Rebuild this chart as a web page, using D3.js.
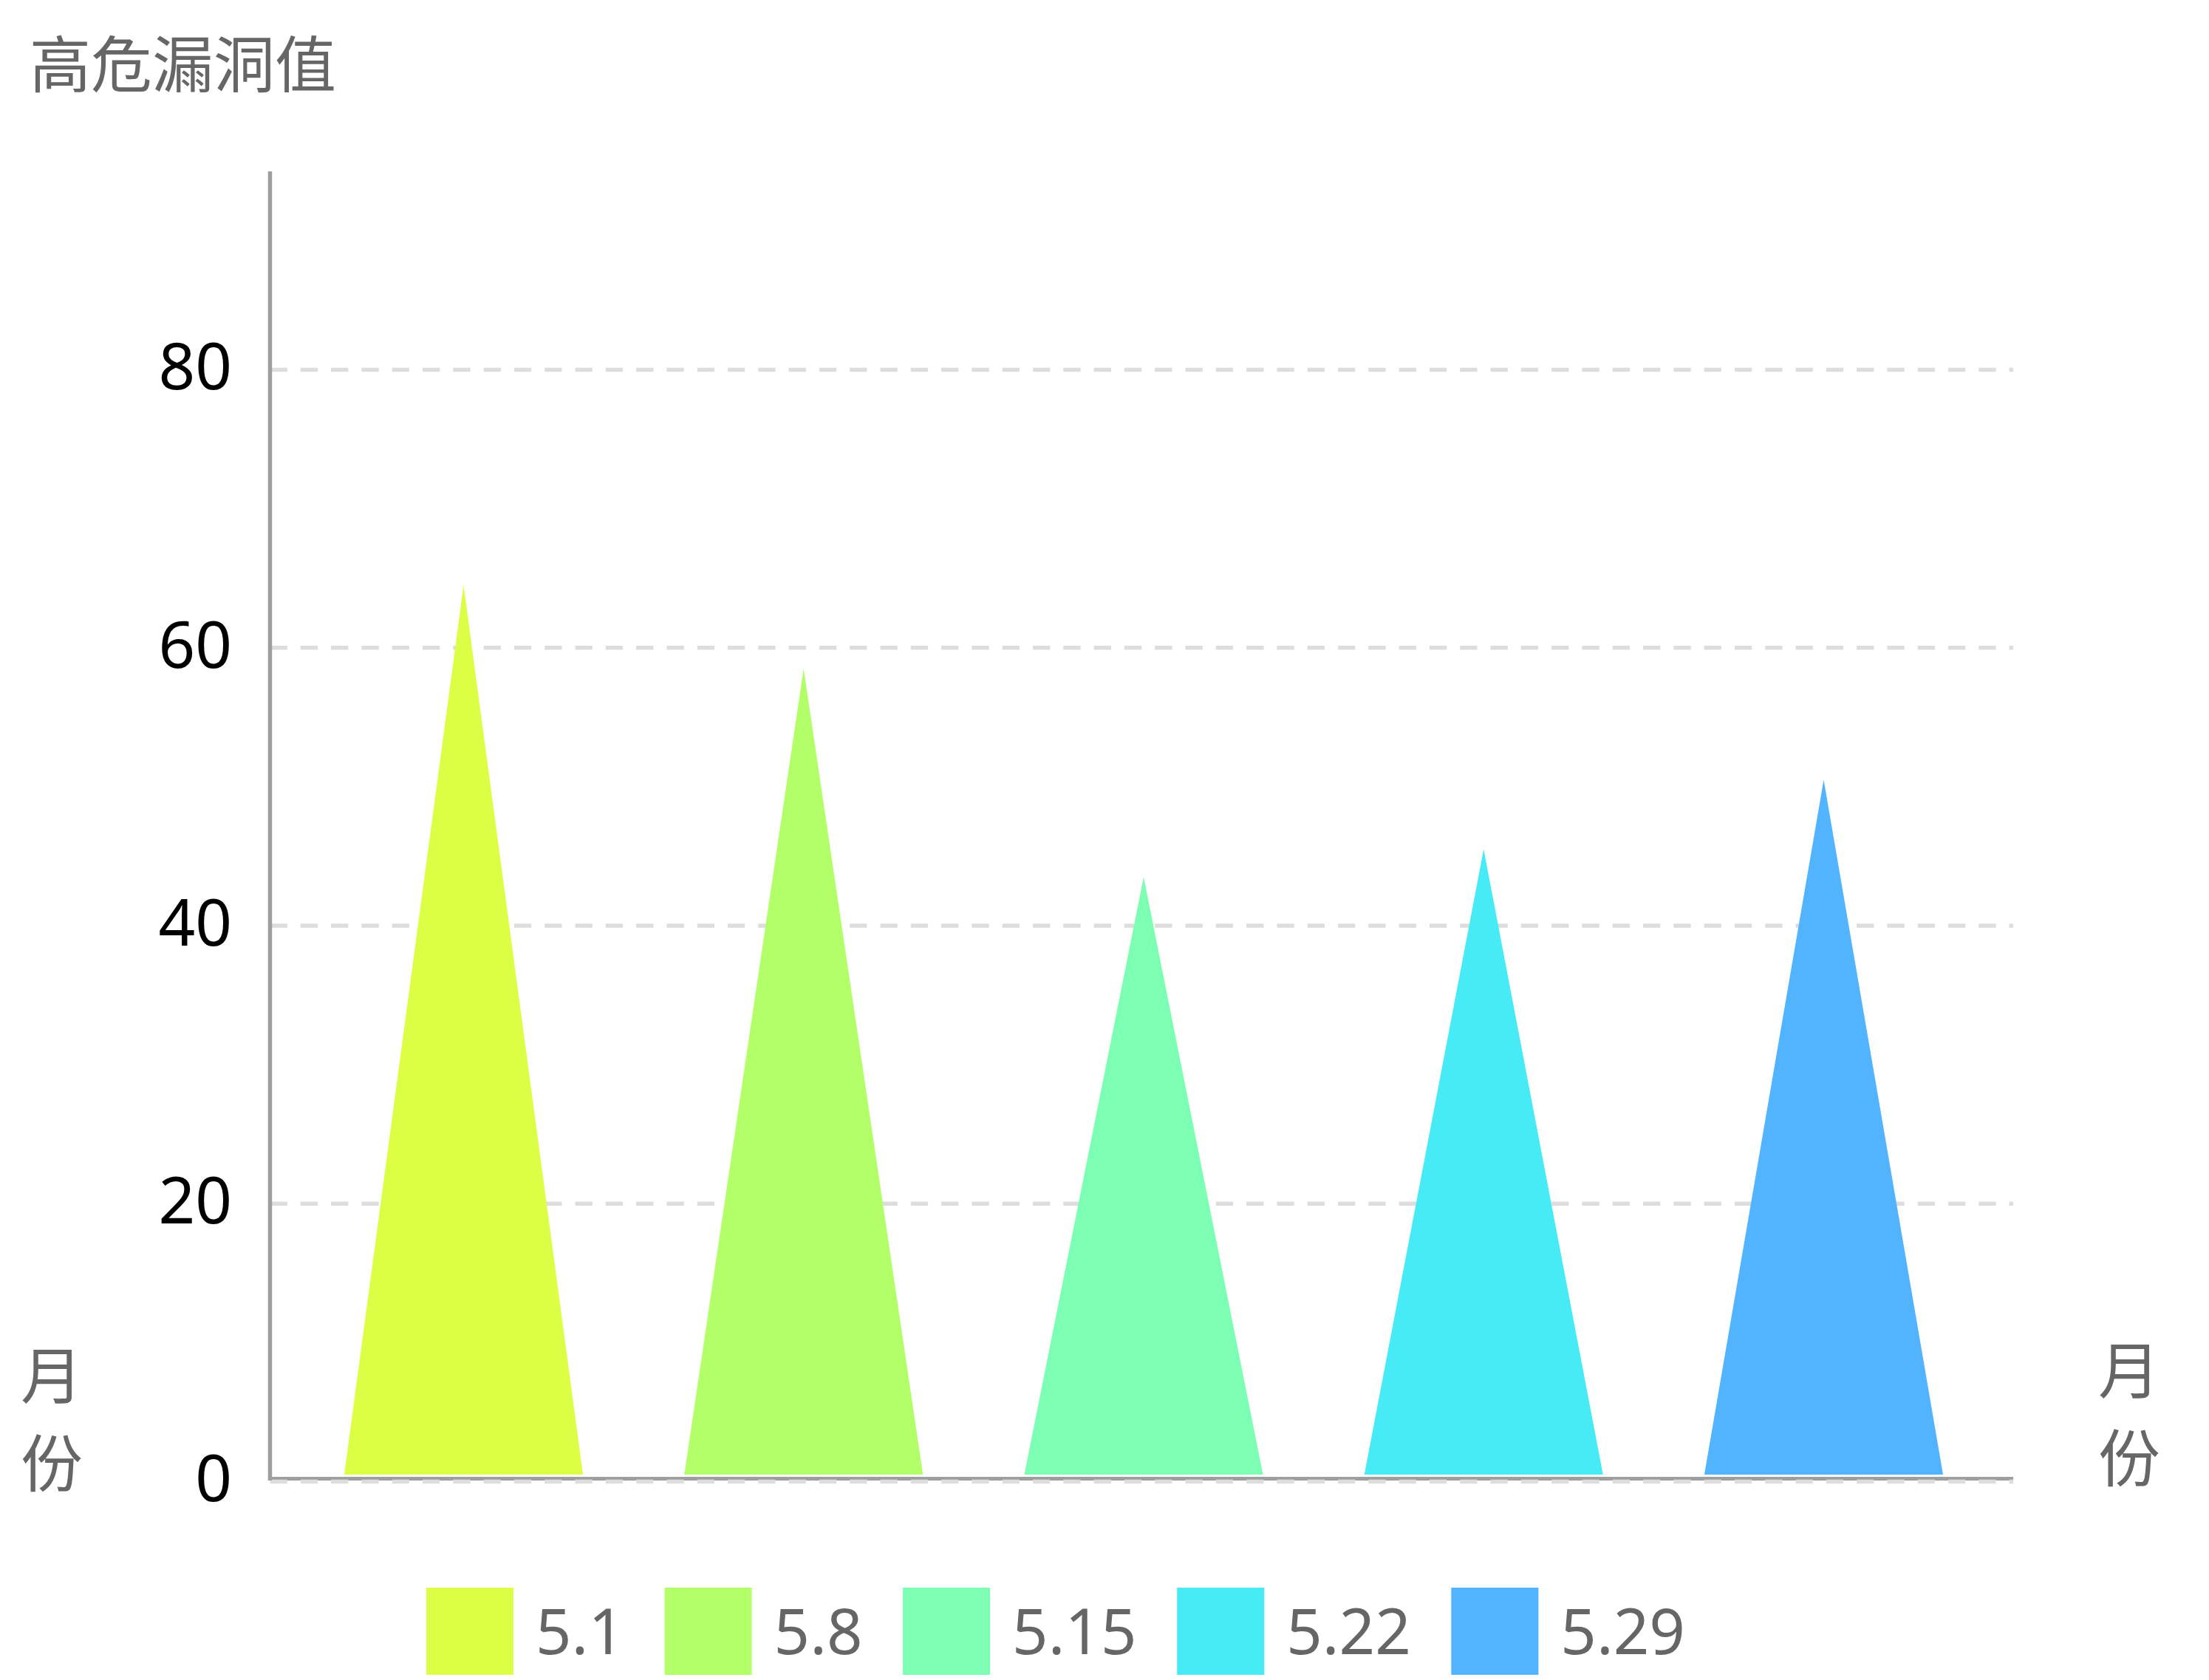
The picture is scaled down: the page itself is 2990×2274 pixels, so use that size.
<!DOCTYPE html>
<html>
<head>
<meta charset="utf-8">
<script src="https://cdn.jsdelivr.net/npm/d3@7/dist/d3.min.js"></script>
<style>
  html, body { margin: 0; padding: 0; background: #ffffff; }
  svg { display: block; }
</style>
</head>
<body>
<svg id="chart" width="2990" height="2274"></svg>
<script>
// Weekly high-risk vulnerability counts
const categories = ["5.1", "5.8", "5.15", "5.22", "5.29"];
const values = [64, 58, 43, 45, 50];
const colors = ["#DCFF45", "#B3FF6A", "#7CFFB2", "#46EBF6", "#52B3FF"];
const yTicks = [0, 20, 40, 60, 80];
const titleText = "高危漏洞值";
const axisNameChars = ["月", "份"];

const svg = d3.select("#chart");
const W = 2990, H = 2274;

svg.append("rect").attr("width", W).attr("height", H).attr("fill", "#ffffff");

// plot geometry
const plotLeft = 365.5, plotRight = 2725, plotTop = 232;

// gridline / label scale and the bar scale (bars sit on a slightly raised base)
const yGrid = d3.scaleLinear().domain([0, 80]).range([2005.5, 500.5]);
const yBar = d3.scaleLinear().domain([0, 80]).range([1996, 491]);
const x = d3.scaleBand().domain(categories).range([397.4, 2698.6]).padding(0);

// x axis line
svg.append("line")
  .attr("x1", 363).attr("x2", plotRight)
  .attr("y1", 2001.5).attr("y2", 2001.5)
  .attr("stroke", "#9e9e9e").attr("stroke-width", 5);

// dashed horizontal gridlines
svg.append("g").selectAll("line")
  .data(yTicks)
  .join("line")
  .attr("x1", plotLeft).attr("x2", plotRight)
  .attr("y1", d => yGrid(d)).attr("y2", d => yGrid(d))
  .attr("stroke", "#dddddd")
  .attr("stroke-width", 5.5)
  .attr("stroke-dasharray", "23.3 18");

// y axis line
svg.append("line")
  .attr("x1", plotLeft).attr("x2", plotLeft)
  .attr("y1", plotTop).attr("y2", 2004)
  .attr("stroke", "#9e9e9e").attr("stroke-width", 5.5);

// y tick labels
const yAxis = d3.axisLeft(yGrid).tickValues(yTicks).tickSize(0).tickPadding(0).tickFormat(d3.format("d"));
const gy = svg.append("g").attr("transform", "translate(314,-5)").call(yAxis);
gy.select(".domain").remove();
gy.selectAll("text")
  .attr("fill", "#000000")
  .attr("font-family", "'Noto Sans', 'DejaVu Sans', sans-serif")
  .attr("font-size", 87)
  .attr("dy", "0.36em");

// triangular bars
const baseHalf = x.bandwidth() * 0.351;
svg.append("g").selectAll("path")
  .data(categories.map((c, i) => ({ c, v: values[i], color: colors[i] })))
  .join("path")
  .attr("d", d => {
    const cx = x(d.c) + x.bandwidth() / 2;
    return `M${cx - baseHalf},${yBar(0)} L${cx},${yBar(d.v)} L${cx + baseHalf},${yBar(0)} Z`;
  })
  .attr("fill", d => d.color);

// title
svg.append("text")
  .attr("x", 40).attr("y", 118)
  .attr("font-family", "'Noto Sans CJK SC', sans-serif")
  .attr("font-size", 83)
  .attr("fill", "#666666")
  .text(titleText);

// vertical axis names on both sides
function stackedName(xPos, baselines) {
  const t = svg.append("text")
    .attr("font-family", "'Noto Sans CJK SC', sans-serif")
    .attr("font-size", 84)
    .attr("fill", "#666666");
  axisNameChars.forEach((ch, i) => {
    t.append("tspan").attr("x", xPos).attr("y", baselines[i]).text(ch);
  });
}
stackedName(28, [1893, 2012]);
stackedName(2840, [1886, 2005]);

// legend
const legend = svg.append("g");
let lx = 577;
const swatch = 118, legendTop = 2149;
categories.forEach((c, i) => {
  legend.append("rect")
    .attr("x", lx).attr("y", legendTop)
    .attr("width", swatch).attr("height", swatch)
    .attr("fill", colors[i]);
  const t = legend.append("text")
    .attr("x", lx + swatch + 30)
    .attr("y", legendTop + swatch / 2)
    .attr("dy", "0.36em")
    .attr("font-family", "'Noto Sans', 'DejaVu Sans', sans-serif")
    .attr("font-size", 85)
    .attr("fill", "#666666")
    .text(c);
  lx = lx + swatch + 30 + t.node().getComputedTextLength() + 54.5;
});
</script>
</body>
</html>
